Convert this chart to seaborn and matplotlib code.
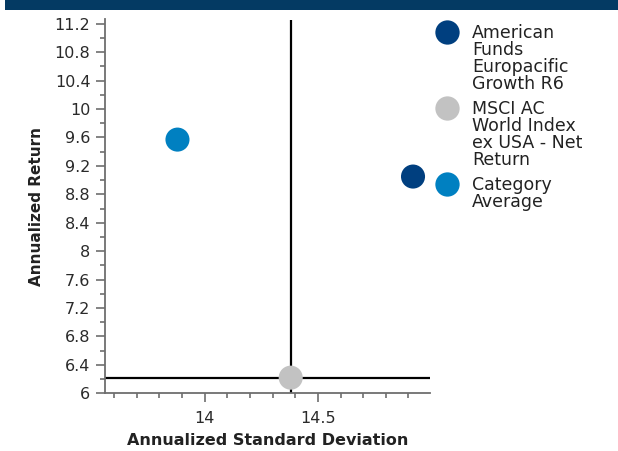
import matplotlib
matplotlib.use("Agg")
import matplotlib.pyplot as plt
from matplotlib.lines import Line2D
from matplotlib.patches import Rectangle
from matplotlib.ticker import MultipleLocator, FixedLocator, FuncFormatter
import pandas as pd
import seaborn as sns

# Risk / return data (annualized)
names = [
    "American Funds Europacific Growth R6",
    "MSCI AC World Index ex USA - Net Return",
    "Category Average",
]
legend_lines = [
    ["American", "Funds", "Europacific", "Growth R6"],
    ["MSCI AC", "World Index", "ex USA - Net", "Return"],
    ["Category", "Average"],
]
std_dev = [14.92, 14.38, 13.88]
returns = [9.05, 6.22, 9.57]
colors = ["#003F7F", "#C2C2C2", "#0080C1"]
benchmark_idx = 1

x_major = [14, 14.5]

df = pd.DataFrame({"name": names, "std": std_dev, "ret": returns})

sns.set_theme(style="white")
plt.rcParams["font.family"] = ["DejaVu Sans"]

fig = plt.figure(figsize=(6.18, 4.51), dpi=100)
ax = fig.add_axes([105 / 618, 1 - 393.3 / 451, 325 / 618, (393.3 - 19.5) / 451])

# crosshair through the benchmark
ax.axvline(std_dev[benchmark_idx], color="black", lw=1.6, zorder=1)
ax.axhline(returns[benchmark_idx], color="black", lw=1.6, zorder=1)

sns.scatterplot(data=df, x="std", y="ret", hue="name", palette=colors,
                hue_order=names, s=300, edgecolor="none", legend=False,
                ax=ax, zorder=3, clip_on=False)

ax.set_xlim(13.56, 14.995)
ax.set_ylim(6, 11.26)

ax.xaxis.set_major_locator(FixedLocator(x_major))
ax.xaxis.set_minor_locator(MultipleLocator(0.1))
ax.yaxis.set_major_locator(MultipleLocator(0.4))
ax.yaxis.set_minor_locator(MultipleLocator(0.2))
fmt = FuncFormatter(lambda v, _: f"{round(v, 2):g}")
ax.xaxis.set_major_formatter(fmt)
ax.yaxis.set_major_formatter(fmt)

spine_col = "#6E6E6E"
for side in ["top", "right"]:
    ax.spines[side].set_visible(False)
for side in ["left", "bottom"]:
    ax.spines[side].set_color(spine_col)
    ax.spines[side].set_linewidth(1.3)

ax.tick_params(which="major", direction="out", length=6.5, width=1.2,
               color=spine_col, labelsize=11.5, labelcolor="#2A2A2A")
ax.tick_params(which="minor", direction="out", length=3.5, width=1.2,
               color=spine_col)
ax.tick_params(axis="y", which="major", pad=4)
ax.tick_params(axis="x", which="major", pad=6)
ax.tick_params(axis="x", which="both", bottom=True)
ax.tick_params(axis="y", which="both", left=True)

ax.set_xlabel("Annualized Standard Deviation", fontsize=11.5, fontweight="bold",
              color="#222222", labelpad=5)
ax.set_ylabel("Annualized Return", fontsize=11, fontweight="bold",
              color="#222222", labelpad=8)

# legend on the right, markers aligned with the first text line
W, H = 618, 451
entry_top = 32
line_step = 17
entry_gap = 25
y = entry_top
for color, lines in zip(colors, legend_lines):
    fig.add_artist(Line2D([447 / W], [1 - y / H], transform=fig.transFigure,
                          marker="o", markersize=17.5, color=color,
                          markeredgewidth=0, linestyle="none"))
    for k, line in enumerate(lines):
        fig.text(472 / W, 1 - (y + 6 + k * line_step) / H, line,
                 fontsize=12.5, color="#222222", va="baseline", ha="left")
    y += (len(lines) - 1) * line_step + entry_gap

# header band
fig.add_artist(Rectangle((5 / W, 1 - 10 / H), 1, 10 / H,
                         transform=fig.transFigure, color="#043A63", lw=0))

fig.savefig("out.png", dpi=100)
